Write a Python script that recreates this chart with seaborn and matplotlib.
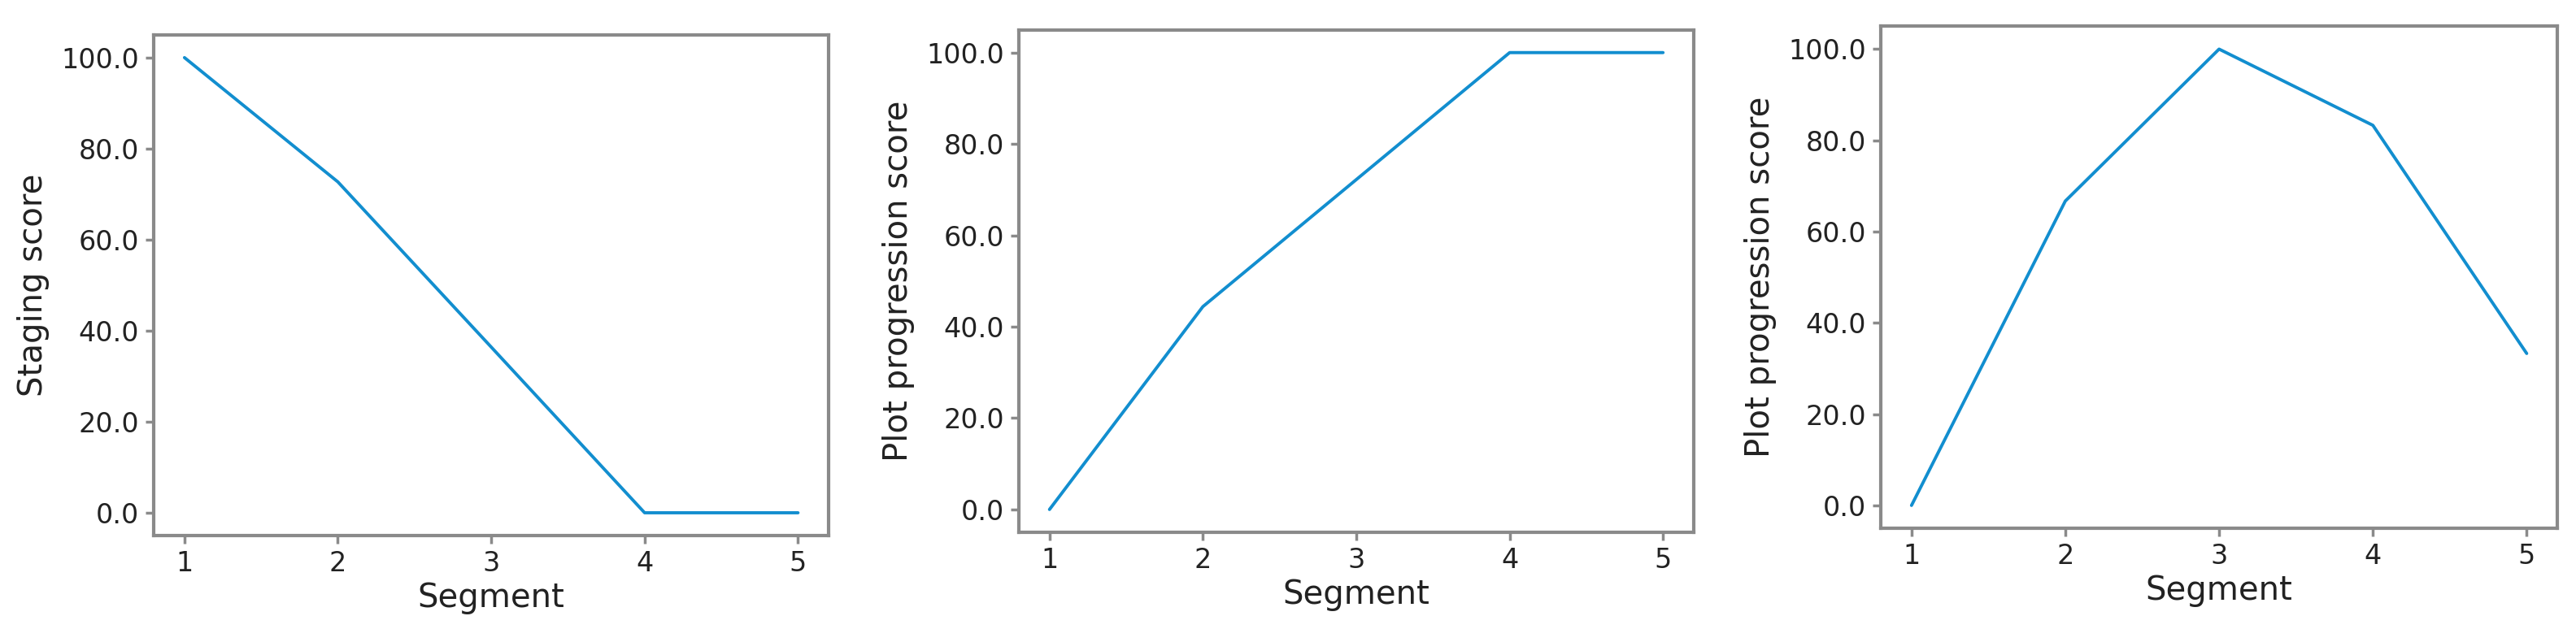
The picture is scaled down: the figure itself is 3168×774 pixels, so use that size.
import matplotlib
matplotlib.use("Agg")
import matplotlib.pyplot as plt
import seaborn as sns
import pandas as pd
from matplotlib.ticker import FormatStrFormatter

# data
segments = [1, 2, 3, 4, 5]
staging = [100.0, 72.7, 36.4, 0.0, 0.0]
progression_a = [0.0, 44.4, 72.2, 100.0, 100.0]
progression_b = [0.0, 66.7, 100.0, 83.3, 33.3]

panels = [
    ("Staging score", staging),
    ("Plot progression score", progression_a),
    ("Plot progression score", progression_b),
]

# axes boxes in figure fractions
boxes = [
    [0.0597, 0.1486, 0.262, 0.796],
    [0.3955, 0.1537, 0.262, 0.799],
    [0.7301, 0.1602, 0.2627, 0.798],
]

sns.set_style("white")
plt.rcParams["font.family"] = ["DejaVu Sans"]

fig = plt.figure(figsize=(31.68, 7.74), dpi=100)
line_color = "#128ecf"
spine_color = "#8a8a8a"

for (ylabel, vals), box in zip(panels, boxes):
    ax = fig.add_axes(box)
    df = pd.DataFrame({"Segment": segments, "score": vals})
    sns.lineplot(data=df, x="Segment", y="score", ax=ax, color=line_color, linewidth=2.8)
    ax.set_xticks(segments)
    ax.set_yticks([0, 20, 40, 60, 80, 100])
    ax.yaxis.set_major_formatter(FormatStrFormatter("%.1f"))
    ax.set_ylim(-5, 105)
    ax.set_xlim(0.8, 5.2)
    ax.set_xlabel("Segment", fontsize=29, color="#222222", labelpad=4)
    ax.set_ylabel(ylabel, fontsize=29, color="#222222", labelpad=10)
    ax.tick_params(axis="both", labelsize=24, colors="#222222", length=7, width=2.5,
                   color=spine_color, bottom=True, left=True, pad=6)
    for s in ax.spines.values():
        s.set_color(spine_color)
        s.set_linewidth(3)

fig.savefig("out.png", dpi=100)
